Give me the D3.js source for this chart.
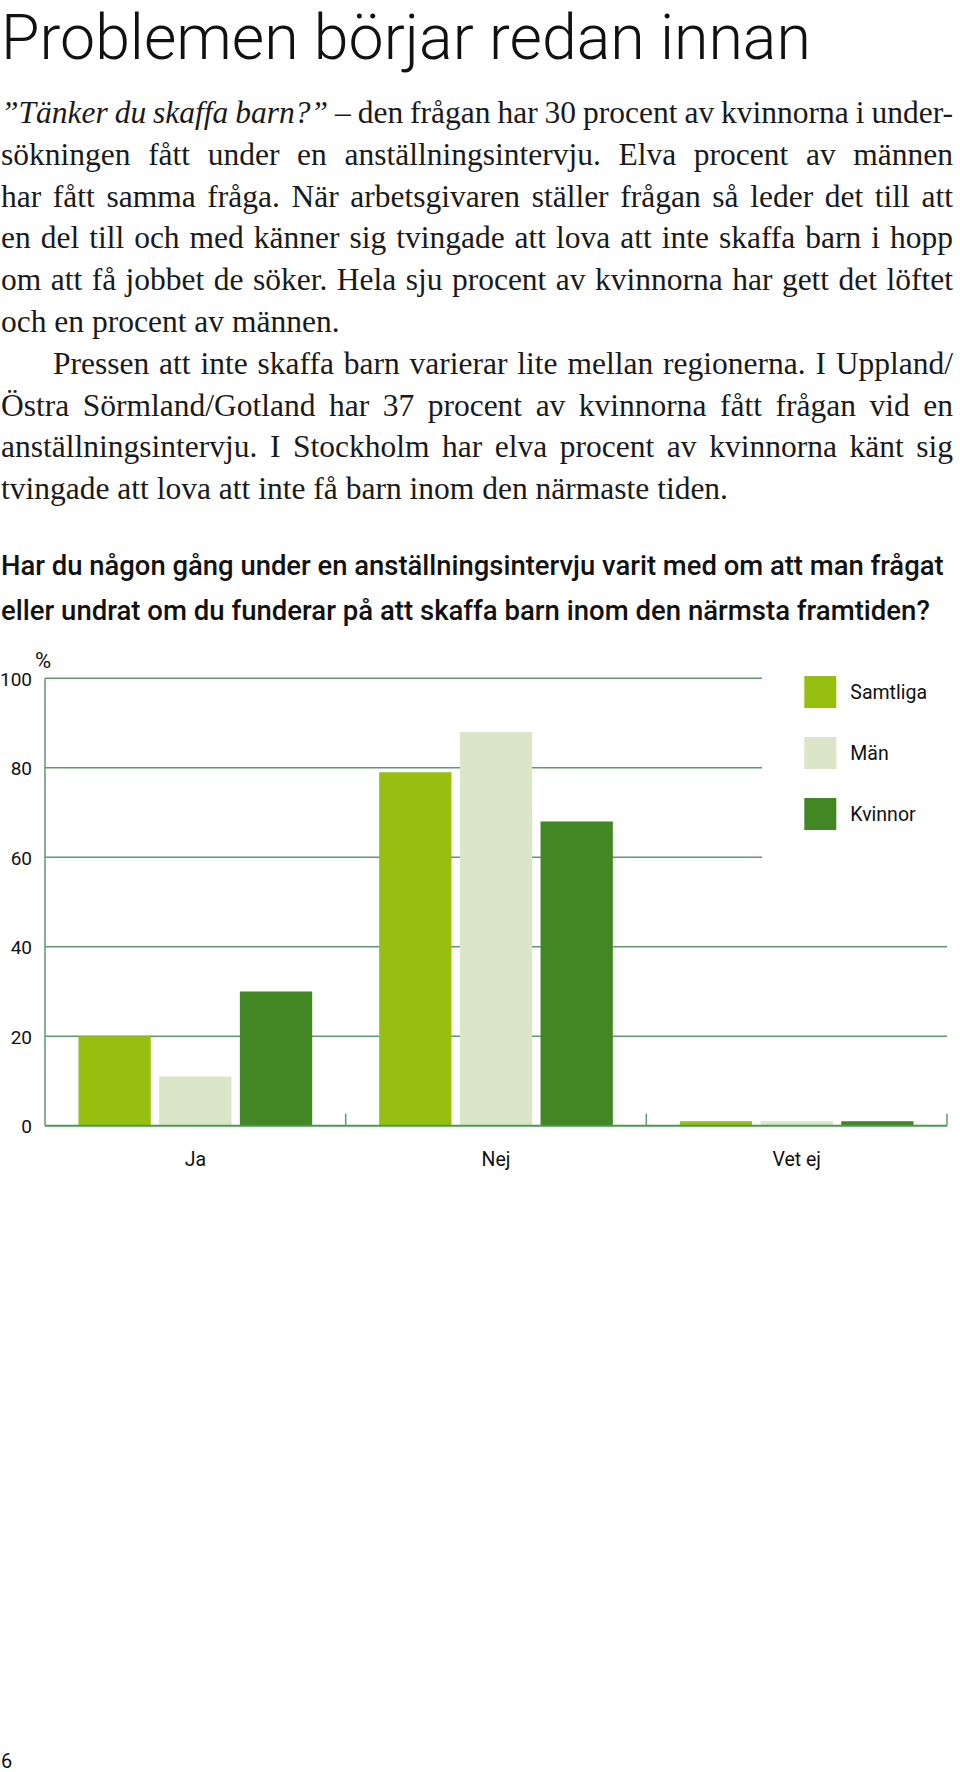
<!DOCTYPE html>
<html>
<head>
<meta charset="utf-8">
<script src="https://cdn.jsdelivr.net/npm/d3@7"></script>
<style>
  html, body { margin: 0; padding: 0; background: #fff; }
  svg { display: block; }
</style>
</head>
<body>
<svg id="page" width="960" height="1772"></svg>
<script>
// ---------- DATA ----------
const categories = ["Ja", "Nej", "Vet ej"];
const seriesNames = ["Samtliga", "Män", "Kvinnor"];
const samtliga = [20, 79, 1];
const man = [11, 88, 1];
const kvinnor = [30, 68, 1];
const yTicks = [0, 20, 40, 60, 80, 100];
const seriesColors = ["#97bf10", "#dbe5c8", "#428724"];

const titleText = "Problemen börjar redan innan";
const bodyLines = [
  "”Tänker du skaffa barn?” – den frågan har 30 procent av kvinnorna i under-",
  "sökningen fått under en anställningsintervju. Elva procent av männen",
  "har fått samma fråga. När arbetsgivaren ställer frågan så leder det till att",
  "en del till och med känner sig tvingade att lova att inte skaffa barn i hopp",
  "om att få jobbet de söker. Hela sju procent av kvinnorna har gett det löftet",
  "och en procent av männen.",
  "Pressen att inte skaffa barn varierar lite mellan regionerna. I Uppland/",
  "Östra Sörmland/Gotland har 37 procent av kvinnorna fått frågan vid en",
  "anställningsintervju. I Stockholm har elva procent av kvinnorna känt sig",
  "tvingade att lova att inte få barn inom den närmaste tiden."
];
const bodyJustify = [1, 1, 1, 1, 1, 0, 1, 1, 1, 0];
const bodyIndent = [0, 0, 0, 0, 0, 0, 1, 0, 0, 0];
const questionLines = [
  "Har du någon gång under en anställningsintervju varit med om att man frågat",
  "eller undrat om du funderar på att skaffa barn inom den närmsta framtiden?"
];
const pageNumber = "6";

// ---------- PAGE ----------
const svg = d3.select("#page");

// helper: text squeezed horizontally to a target width using a transform
function fittedText(x, yPos, str, family, weight, size, targetW) {
  const g = svg.append("g");
  const t = g.append("text")
    .attr("x", 0).attr("y", 0)
    .attr("font-family", family)
    .attr("font-weight", weight)
    .attr("font-size", size)
    .attr("fill", "#111")
    .text(str);
  const w = t.node().getComputedTextLength();
  const s = targetW / w;
  g.attr("transform", `translate(${x},${yPos}) scale(${s},1)`);
  return g;
}

// Title
fittedText(1, 59, titleText, "Roboto, 'Liberation Sans', sans-serif", 300, 63, 810);

// Body text (justified)
const bodyFont = "'Liberation Serif', 'DejaVu Serif', serif";
const bodySize = 31.5;
const bodyTop = 123, bodyPitch = 41.8, bodyRight = 953, indentW = 53;
bodyLines.forEach((line, i) => {
  const y = bodyTop + i * bodyPitch;
  const x0 = bodyIndent[i] ? indentW : 1;
  const words = line.split(" ");
  const g = svg.append("g");
  const nodes = words.map((w, k) => {
    const t = g.append("text")
      .attr("y", y)
      .attr("font-family", bodyFont)
      .attr("font-size", bodySize)
      .attr("fill", "#1a1a1a")
      .attr("font-style", (i === 0 && k < 4) ? "italic" : "normal")
      .text(w);
    return t;
  });
  const widths = nodes.map(n => n.node().getComputedTextLength());
  const sum = d3.sum(widths);
  const normalGap = bodySize * 0.25;
  let gap = normalGap, scale = 1;
  const target = bodyRight - x0;
  if (bodyJustify[i]) {
    gap = (target - sum) / (words.length - 1);
    if (gap < normalGap * 0.6) {
      gap = normalGap * 0.6;
      scale = target / (sum + gap * (words.length - 1));
    }
  } else {
    const nat = sum + gap * (words.length - 1);
    if (nat > target) scale = target / nat;
  }
  let cx = 0;
  nodes.forEach((n, k) => {
    n.attr("x", cx);
    cx += widths[k] + gap;
  });
  g.attr("transform", `translate(${x0},0) scale(${scale},1)`);
});

// Question heading
const qBaselines = [575, 620];
const qWidths = [943, 929];
questionLines.forEach((q, i) => {
  fittedText(1, qBaselines[i], q, "Roboto, 'Liberation Sans', sans-serif", 500, 28, qWidths[i]);
});

// ---------- CHART ----------
const chartFont = "Roboto, 'Liberation Sans', sans-serif";
const axisLeft = 45, axisRight = 947;
const y0 = 1125.7, y100 = 678.3;
const legendLeftLimit = 762;
const gridColor = "#5e9870";

const y = d3.scaleLinear().domain([0, 100]).range([y0, y100]);
const x0s = d3.scaleBand().domain(categories).range([axisLeft, axisRight]).paddingInner(0).paddingOuter(0);
const x1s = d3.scaleBand().domain(seriesNames).range([0, x0s.bandwidth()]).paddingInner(0.104).paddingOuter(0.415);
const values = [samtliga, man, kvinnor];

const chart = svg.append("g");

// Gridlines (behind bars)
chart.selectAll("line.grid")
  .data(yTicks.filter(t => t > 0))
  .join("line")
  .attr("class", "grid")
  .attr("x1", axisLeft)
  .attr("x2", d => d >= 60 ? legendLeftLimit : axisRight)
  .attr("y1", d => y(d)).attr("y2", d => y(d))
  .attr("stroke", gridColor)
  .attr("stroke-width", 1.5);

// Bars
const rows = [];
categories.forEach((c, ci) => {
  seriesNames.forEach((s, si) => {
    rows.push({ cat: c, series: s, value: values[si][ci], color: seriesColors[si] });
  });
});
chart.selectAll("rect.bar")
  .data(rows)
  .join("rect")
  .attr("class", "bar")
  .attr("x", d => x0s(d.cat) + x1s(d.series))
  .attr("width", x1s.bandwidth())
  .attr("y", d => y(d.value))
  .attr("height", d => y(0) - y(d.value))
  .attr("fill", d => d.color);

// Left axis line
chart.append("line")
  .attr("x1", axisLeft).attr("x2", axisLeft)
  .attr("y1", y(100)).attr("y2", y(0))
  .attr("stroke", gridColor).attr("stroke-width", 1.5);

// Baseline
chart.append("line")
  .attr("x1", axisLeft).attr("x2", axisRight)
  .attr("y1", y(0)).attr("y2", y(0))
  .attr("stroke", "#459a52").attr("stroke-width", 2);

// Category separator ticks
chart.selectAll("line.sep")
  .data(categories)
  .join("line")
  .attr("class", "sep")
  .attr("x1", d => x0s(d) + x0s.bandwidth())
  .attr("x2", d => x0s(d) + x0s.bandwidth())
  .attr("y1", y(0)).attr("y2", y(0) - 12)
  .attr("stroke", gridColor).attr("stroke-width", 1.5);

// Y tick labels via axis
const yAxis = d3.axisLeft(y).tickValues(yTicks).tickSize(0).tickPadding(0).tickFormat(d3.format("d"));
const yAxisG = chart.append("g").attr("transform", "translate(32,0)").call(yAxis);
yAxisG.select(".domain").remove();
yAxisG.selectAll("text")
  .attr("font-family", chartFont)
  .attr("font-size", 19)
  .attr("fill", "#111")
  .attr("dy", "0.36em");

// % label
chart.append("text")
  .attr("x", 35).attr("y", 668)
  .attr("font-family", chartFont)
  .attr("font-size", 22)
  .attr("fill", "#111")
  .text("%");

// Category labels via axis
const xAxis = d3.axisBottom(x0s).tickSize(0).tickPadding(0);
const xAxisG = chart.append("g").attr("transform", `translate(0,${y(0)})`).call(xAxis);
xAxisG.select(".domain").remove();
xAxisG.selectAll("text")
  .attr("font-family", chartFont)
  .attr("font-size", 19.5)
  .attr("fill", "#111")
  .attr("dy", null)
  .attr("y", 40);

// Legend
const legendX = 804.3, legendY = 676, legendStep = 61, sw = 32;
const lg = chart.selectAll("g.legend")
  .data(seriesNames)
  .join("g")
  .attr("class", "legend")
  .attr("transform", (d, i) => `translate(${legendX},${legendY + i * legendStep})`);
lg.append("rect")
  .attr("width", sw).attr("height", sw)
  .attr("fill", (d, i) => seriesColors[i]);
lg.append("text")
  .attr("x", 46).attr("y", sw / 2)
  .attr("dy", "0.36em")
  .attr("font-family", chartFont)
  .attr("font-size", 19.5)
  .attr("fill", "#111")
  .text(d => d);

// Page number
svg.append("text")
  .attr("x", 1).attr("y", 1768)
  .attr("font-family", chartFont)
  .attr("font-size", 20)
  .attr("fill", "#111")
  .text(pageNumber);
</script>
</body>
</html>
